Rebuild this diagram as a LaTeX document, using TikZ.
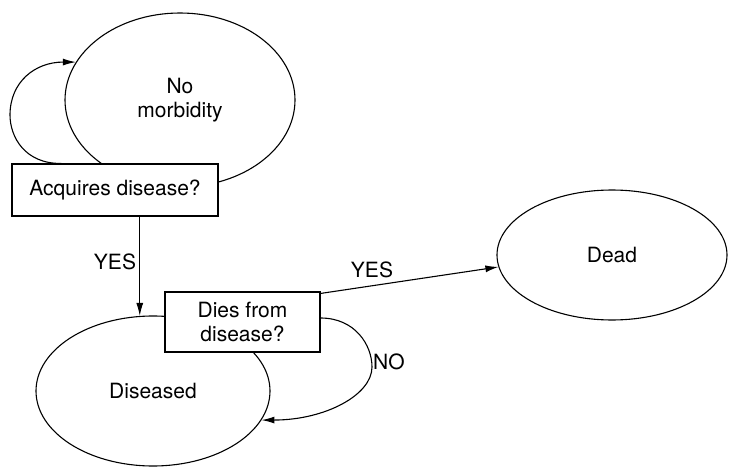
\documentclass[tikz,border=0pt]{standalone}
\usepackage{fontspec}
\setmainfont{TeX Gyre Heros}
\usetikzlibrary{shapes.geometric,arrows.meta,calc}
\begin{document}
\begin{tikzpicture}[x=1pt,y=1pt,
  every node/.style={font=\fontsize{21}{24}\selectfont},
  state/.style={draw,ellipse,line width=1.1pt,inner sep=0pt,align=center},
  qbox/.style={draw,rectangle,fill=white,line width=1.1pt,inner sep=0pt,align=center},
  conn/.style={line width=1.1pt,-{Latex[length=13pt,width=7pt]}},
  lbl/.style={inner sep=1pt}]
\useasboundingbox (0,0) rectangle (729,467);
\node[state,minimum width=230pt,minimum height=174pt] (nomorb) at (180,367) {No\\morbidity};
\node[state,minimum width=234pt,minimum height=150pt] (diseased) at (153,76) {Diseased};
\node[state,minimum width=230pt,minimum height=130pt] (dead) at (612,212) {Dead};
\node[qbox,minimum width=206pt,minimum height=52pt] (acq) at (115,277) {Acquires disease?};
\node[qbox,minimum width=155pt,minimum height=60pt] (dies) at (242.5,145) {Dies from\\disease?};
\coordinate (loopstart) at ($(acq.north west)+(50,0)$);
\draw[conn] (loopstart) .. controls (25,303) and (10,330) .. (10,352)
  .. controls (10,385) and (35,405) .. (nomorb.160);
\draw[conn] (acq.south -| diseased.100) -- (diseased.100);
\node[lbl] (yes1) at (115,205) {YES};
\coordinate (yesstart) at ($(dies.north east)+(0,-2)$);
\draw[conn] (yesstart) -- (dead.186);
\node[lbl] (yes2) at (372,197) {YES};
\coordinate (nostart) at ($(dies.east)+(0,4)$);
\draw[conn] (nostart) .. controls (355,149) and (372,122) .. (372,100)
  .. controls (372,72) and (325,47) .. (diseased.-15);
\node[lbl,anchor=west] (no) at (372,105) {NO};
\end{tikzpicture}
\end{document}
